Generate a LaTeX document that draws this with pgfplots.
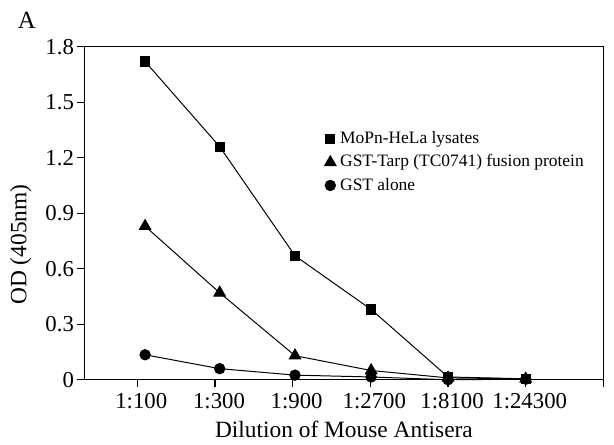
\documentclass[border=0pt]{standalone}
\usepackage{pgfplots}
\pgfplotsset{compat=1.18}
\usepackage{fontspec}
\setmainfont{Liberation Serif}
\begin{document}
\begin{tikzpicture}
\path (-42.5bp,-32.5bp) rectangle (264.5bp,191bp);
\begin{axis}[
  at={(0,0)}, anchor=south west,
  scale only axis, width=261bp, height=167.5bp,
  xmin=0.32, xmax=7, ymin=0, ymax=1.8,
  xtick={1,2,3,4,5,6,7},
  xticklabels={1:100,1:300,1:900,1:2700,1:8100,1:24300,{}},
  ytick={0,0.3,0.6,0.9,1.2,1.5,1.8},
  yticklabels={0,0.3,0.6,0.9,1.2,1.5,1.8},
  tick pos=left, tick align=outside, major tick length=3.8bp,
  axis line style={line width=0.65bp},
  every tick/.style={black, line width=0.65bp},
  /pgf/number format/assume math mode=true,
  ticklabel style={font=\fontsize{11.5}{13}\selectfont},
  yticklabel style={xshift=2bp},
  xticklabel style={xshift=2bp, yshift=0.5bp},
  xlabel={Dilution of Mouse Antisera},
  ylabel={OD (405nm)},
  label style={font=\fontsize{11.8}{14}\selectfont},
  xlabel style={at={([yshift=-25bp]axis description cs:0.5,0)}, anchor=center},
  ylabel style={at={([xshift=-32bp]axis description cs:0,0.406)}, anchor=center},
  legend style={at={(axis description cs:0.462,0.755)}, anchor=north west, draw=none, fill=none,
    inner sep=0pt, row sep=1.0bp, font=\fontsize{8.8}{10.2}\selectfont,
    nodes={inner sep=1.5bp}},
  legend cell align=left,
  legend image code/.code={\draw[#1] plot coordinates {(0bp,0bp)}; \path (3.2bp,0bp) (-2.3bp,0bp);},
  clip=false,
]
\addplot[black, line width=0.5bp, mark=square*, mark size=2.3bp, mark options={solid, fill=black}]
  coordinates {(1.1,1.72) (2.06,1.26) (3.03,0.67) (4.01,0.38) (5.0,0.015) (6.0,0.005)};
\addlegendentry{MoPn-HeLa lysates}
\addplot[black, line width=0.5bp, mark=triangle*, mark size=3.3bp, mark options={solid, fill=black}]
  coordinates {(1.1,0.83) (2.06,0.47) (3.03,0.13) (4.01,0.05) (5.0,0.01) (6.0,0.005)};
\addlegendentry{GST-Tarp (TC0741) fusion protein}
\addplot[black, line width=0.5bp, mark=*, mark size=2.6bp, mark options={solid, fill=black}]
  coordinates {(1.1,0.135) (2.06,0.06) (3.03,0.025) (4.01,0.015) (5.0,0.0) (6.0,0.003)};
\addlegendentry{GST alone}
\end{axis}
\node[font=\fontsize{12.5}{14}\selectfont] at (-29bp,181bp) {A};
\end{tikzpicture}
\end{document}
